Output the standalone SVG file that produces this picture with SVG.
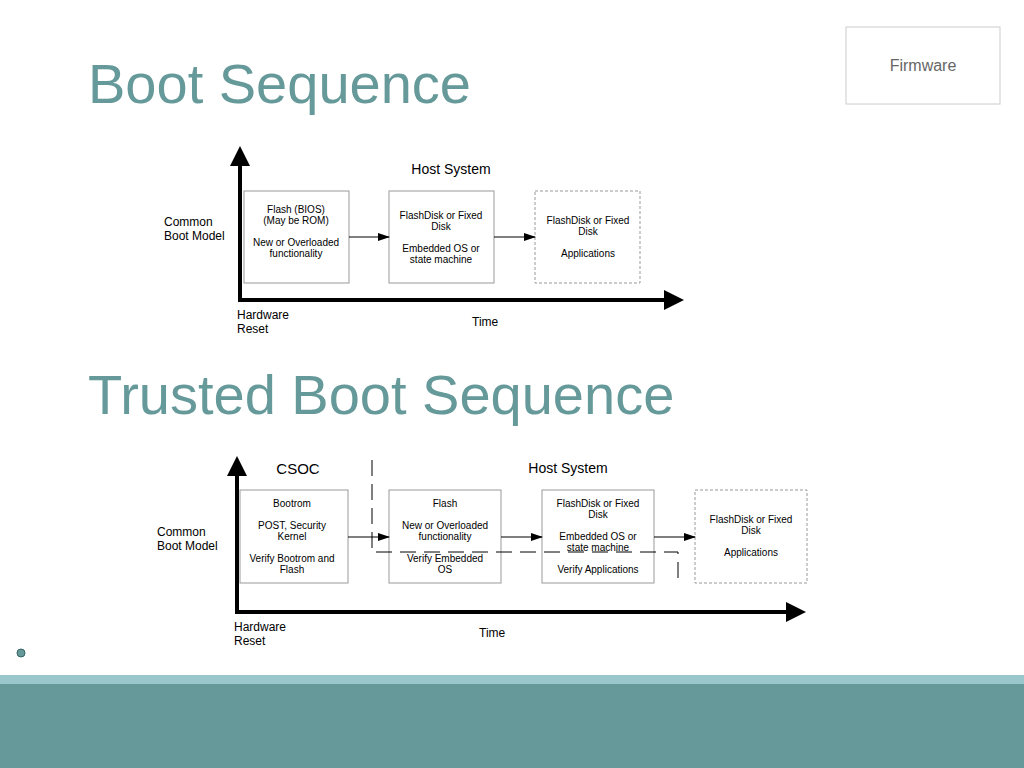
<svg xmlns="http://www.w3.org/2000/svg" width="1024" height="768" viewBox="0 0 1024 768">
<defs>
<marker id="big" markerWidth="5" markerHeight="5" refX="1" refY="2.5" orient="auto" markerUnits="strokeWidth"><path d="M0,0 L5,2.5 L0,5 z" fill="#000"/></marker>
<marker id="sm" markerWidth="12" markerHeight="8" refX="11" refY="4" orient="auto" markerUnits="userSpaceOnUse"><path d="M0,0 L12,4 L0,8 z" fill="#000"/></marker>
</defs>
<style>
.t{font-family:"Liberation Sans",Arial,sans-serif;fill:#000}
.s{font-size:10px;text-anchor:middle}
.l{font-size:12px}
.h{font-size:14px;text-anchor:middle}
.title{font-family:"Liberation Sans",Arial,sans-serif;font-size:56px;fill:#669999}
.box{fill:#fff;stroke:#999;stroke-width:1}
.dbox{fill:#fff;stroke:#999;stroke-width:1;stroke-dasharray:3,2}
.axis{stroke:#000;stroke-width:4;fill:none}
.ar{stroke:#000;stroke-width:1;fill:none;marker-end:url(#sm)}
</style>
<rect width="1024" height="768" fill="#fff"/>
<rect x="0" y="675" width="1024" height="9" fill="#99c7cc"/>
<rect x="0" y="684" width="1024" height="84" fill="#669999"/>
<text class="title" x="88" y="103">Boot Sequence</text>
<text class="title" x="88" y="414">Trusted Boot Sequence</text>
<g id="firmware"><rect x="846" y="27" width="154" height="77" fill="#fff" stroke="#ccc"/><text x="923" y="71" font-family="Liberation Sans,Arial,sans-serif" font-size="16" fill="#666" text-anchor="middle">Firmware</text></g>
<circle cx="21" cy="653" r="4" fill="#669999" stroke="#336666"/>

<text class="t h" x="451" y="174">Host System</text>
<text class="t l" x="164" y="226">Common</text><text class="t l" x="164" y="240">Boot Model</text>
<text class="t l" x="237" y="319">Hardware</text><text class="t l" x="237" y="333">Reset</text>
<text class="t l" x="472" y="326">Time</text>

<g id="b1"><rect class="box" x="244" y="191" width="105" height="92"/>
<text class="t s" x="296" y="213">Flash (BIOS)</text><text class="t s" x="296" y="224">(May be ROM)</text>
<text class="t s" x="296" y="246">New or Overloaded</text><text class="t s" x="296" y="257">functionality</text></g>
<g id="b2"><rect class="box" x="389" y="191" width="105" height="92"/>
<text class="t s" x="441" y="219">FlashDisk or Fixed</text><text class="t s" x="441" y="230">Disk</text>
<text class="t s" x="441" y="252">Embedded OS or</text><text class="t s" x="441" y="263">state machine</text></g>
<g id="b3"><rect class="dbox" x="535" y="191" width="105" height="92"/>
<text class="t s" x="588" y="224">FlashDisk or Fixed</text><text class="t s" x="588" y="235">Disk</text>
<text class="t s" x="588" y="257">Applications</text></g>

<text class="t" x="298" y="474" font-size="15" text-anchor="middle" font-family="Liberation Sans,Arial,sans-serif">CSOC</text>
<text class="t h" x="568" y="473">Host System</text>
<text class="t l" x="157" y="536">Common</text><text class="t l" x="157" y="550">Boot Model</text>
<text class="t l" x="234" y="631">Hardware</text><text class="t l" x="234" y="645">Reset</text>
<text class="t l" x="479" y="637">Time</text>

<g id="c1"><rect class="box" x="240" y="490" width="108" height="93"/>
<text class="t s" x="292" y="507">Bootrom</text>
<text class="t s" x="292" y="529">POST, Security</text><text class="t s" x="292" y="540">Kernel</text>
<text class="t s" x="292" y="562">Verify Bootrom and</text><text class="t s" x="292" y="573">Flash</text></g>
<g id="c2"><rect class="box" x="389" y="490" width="112" height="93"/>
<text class="t s" x="445" y="507">Flash</text>
<text class="t s" x="445" y="529">New or Overloaded</text><text class="t s" x="445" y="540">functionality</text>
<text class="t s" x="445" y="562">Verify Embedded</text><text class="t s" x="445" y="573">OS</text></g>
<g id="c3"><rect class="box" x="542" y="490" width="112" height="93"/>
<text class="t s" x="598" y="507">FlashDisk or Fixed</text><text class="t s" x="598" y="518">Disk</text>
<text class="t s" x="598" y="540">Embedded OS or</text><text class="t s" x="598" y="551">state machine</text>
<text class="t s" x="598" y="573">Verify Applications</text></g>
<g id="c4"><rect class="dbox" x="695" y="490" width="112" height="93"/>
<text class="t s" x="751" y="523">FlashDisk or Fixed</text><text class="t s" x="751" y="534">Disk</text>
<text class="t s" x="751" y="556">Applications</text></g>

<g id="connectors">
<path class="axis" d="M240,300 V162" marker-end="url(#big)"/>
<path class="axis" d="M238,300 H668" marker-end="url(#big)"/>
<path class="ar" d="M349,237 H389"/>
<path class="ar" d="M494,237 H535"/>
<path class="axis" d="M237,612 V472" marker-end="url(#big)"/>
<path class="axis" d="M235,612 H790" marker-end="url(#big)"/>
<path class="ar" d="M348,537 H389"/>
<path class="ar" d="M501,537 H542"/>
<path class="ar" d="M654,537 H695"/>
<path d="M372,460 V552 H678 V585" fill="none" stroke="#000" stroke-width="1" stroke-dasharray="16,8"/>
</g>
</svg>
